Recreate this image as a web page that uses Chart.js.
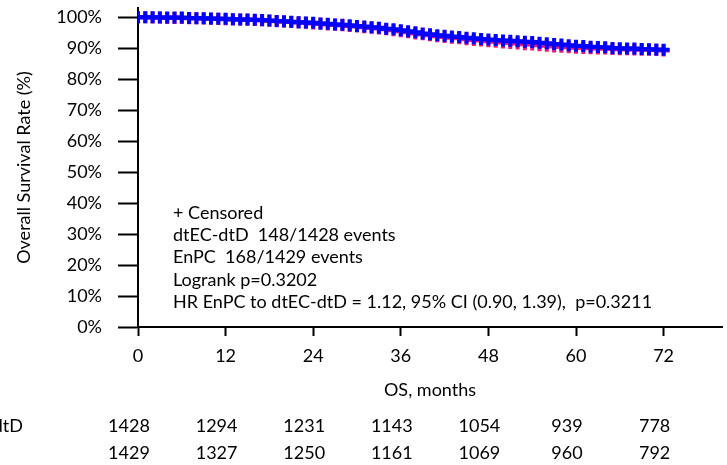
<!DOCTYPE html>
<html>
<head>
<meta charset="utf-8">
<script src="https://cdn.jsdelivr.net/npm/chart.js@4.4.1/dist/chart.umd.min.js"></script>
<style>
  html, body { margin: 0; padding: 0; background: #fff; }
</style>
</head>
<body>
<canvas id="km-chart" width="727" height="465"></canvas>
<script>
const months = [0,1,2,3,4,5,6,7,8,9,10,11,12,13,14,15,16,17,18,19,20,21,22,23,24,
  25,26,27,28,29,30,31,32,33,34,35,36,37,38,39,40,41,42,43,44,45,46,47,48,
  49,50,51,52,53,54,55,56,57,58,59,60,61,62,63,64,65,66,67,68,69,70,71,72];

// Survival (%) - dtEC-dtD arm (blue)
const survDtec = [100,100,100,99.9,99.9,99.9,99.9,99.8,99.7,99.7,99.6,99.5,99.5,
  99.4,99.3,99.3,99.2,99.1,99.0,98.8,98.7,98.6,98.4,98.3,98.2,
  98.0,97.9,97.7,97.6,97.4,97.2,97.0,96.8,96.6,96.3,96.1,95.8,
  95.5,95.2,94.8,94.5,94.2,94.0,93.8,93.6,93.4,93.2,93.0,92.8,
  92.7,92.5,92.4,92.3,92.1,92.0,91.8,91.6,91.4,91.2,91.0,90.8,
  90.7,90.5,90.4,90.3,90.1,90.0,89.9,89.9,89.8,89.7,89.6,89.5];

// Survival (%) - EnPC arm (red)
const survEnpc = [100,100,99.9,99.9,99.8,99.8,99.8,99.7,99.7,99.6,99.5,99.5,99.4,
  99.3,99.3,99.2,99.1,99.0,98.9,98.7,98.6,98.5,98.3,98.2,98.0,
  97.9,97.7,97.6,97.4,97.2,97.0,96.8,96.6,96.4,96.1,95.8,95.5,
  95.2,94.8,94.5,94.2,93.9,93.6,93.4,93.2,92.9,92.7,92.5,92.3,
  92.1,91.9,91.7,91.5,91.3,91.2,91.0,90.8,90.6,90.5,90.3,90.2,
  90.1,90.0,89.9,89.9,89.8,89.7,89.7,89.6,89.5,89.5,89.4,89.3];

// Numbers at risk table
const riskMonths = [0, 12, 24, 36, 48, 60, 72];
const riskDtec = [1428, 1294, 1231, 1143, 1054, 939, 778];
const riskEnpc = [1429, 1327, 1250, 1161, 1069, 960, 792];
const groupNames = ["dtEC-dtD", "EnPC"];

const noteLines = [
  "+ Censored",
  "dtEC-dtD  148/1428 events",
  "EnPC  168/1429 events",
  "Logrank p=0.3202",
  "HR EnPC to dtEC-dtD = 1.12, 95% CI (0.90, 1.39),  p=0.3211"
];

const FONT = "Lato";
const blue = "#0000ff";
const red = "#e8197a";

// texts drawn onto the canvas: notes and numbers at risk
const textPlugin = {
  id: "kmText",
  afterDraw(chart) {
    const { ctx, chartArea, scales } = chart;
    ctx.save();
    ctx.font = "18px " + FONT;
    ctx.fillStyle = "#000";
    ctx.textBaseline = "middle";
    ctx.textAlign = "left";
    noteLines.forEach((t, i) => ctx.fillText(t, chartArea.left + 35, 213 + i * 22.3));

    ctx.textAlign = "center";
    [riskDtec, riskEnpc].forEach((row, r) => {
      row.forEach((n, i) => {
        ctx.fillText(String(n), scales.x.getPixelForValue(riskMonths[i]) - 9, 426 + r * 27);
      });
    });
    ctx.textAlign = "left";
    const labelX = 23 - ctx.measureText(groupNames[0]).width;
    groupNames.forEach((g, r) => ctx.fillText(g, labelX, 426 + r * 27));
    ctx.restore();
  }
};

const toPoints = arr => months.map((m, i) => ({ x: m, y: arr[i] }));

new Chart(document.getElementById("km-chart"), {
  type: "line",
  data: {
    datasets: [{
      label: groupNames[0],
      data: toPoints(survDtec),
      borderColor: blue,
      backgroundColor: blue,
      borderWidth: 2,
      stepped: "after",
      pointStyle: "cross",
      pointRadius: 6,
      pointBorderWidth: 4,
      pointBorderColor: blue
    }, {
      label: groupNames[1],
      data: toPoints(survEnpc),
      borderColor: red,
      backgroundColor: red,
      borderWidth: 2,
      stepped: "after",
      pointStyle: "cross",
      pointRadius: 6,
      pointBorderWidth: 4,
      pointBorderColor: red
    }]
  },
  options: {
    responsive: false,
    animation: false,
    layout: { autoPadding: false, padding: { top: 8, right: 5, left: 0, bottom: 0 } },
    plugins: {
      legend: { display: false },
      tooltip: { enabled: false }
    },
    scales: {
      x: {
        type: "linear",
        min: 0,
        max: 80,
        afterFit: s => { s.height = 138; s.paddingLeft = 0; s.paddingRight = 0; },
        border: { color: "#000", width: 2 },
        grid: { drawOnChartArea: false, tickLength: 9, tickColor: "#000", tickWidth: 2 },
        ticks: {
          stepSize: 12, includeBounds: false, padding: 9, maxRotation: 0,
          color: "#000", font: { family: FONT, size: 18 }
        },
        title: {
          display: true, text: "OS, months", color: "#000",
          font: { family: FONT, size: 18 }, padding: { bottom: 64 }
        }
      },
      y: {
        min: 0,
        max: 103,
        afterFit: s => { s.width = 138; s.paddingTop = 0; s.paddingBottom = 0; },
        border: { color: "#000", width: 2 },
        grid: { drawOnChartArea: false, tickLength: 20, tickColor: "#000", tickWidth: 2 },
        ticks: {
          stepSize: 10, includeBounds: false, padding: 16,
          color: "#000", font: { family: FONT, size: 18 },
          callback: v => v + "%"
        },
        title: {
          display: true, text: "Overall Survival Rate (%)", color: "#000",
          font: { family: FONT, size: 18 }, padding: { top: 13 }
        }
      }
    }
  },
  plugins: [textPlugin]
});
</script>
</body>
</html>
